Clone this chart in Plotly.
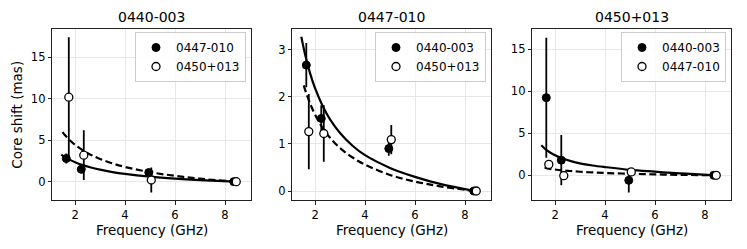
import plotly.graph_objects as go

# ---------------- data ----------------
PANEL_TITLES = ["0440-003", "0447-010", "0450+013"]
LEGEND_FILLED = ["0447-010", "0440-003", "0440-003"]
LEGEND_OPEN = ["0450+013", "0450+013", "0447-010"]

FREQ_FILLED = [1.65, 2.25, 4.95, 8.35]
FREQ_OPEN = [1.75, 2.35, 5.05, 8.45]

# panel 1 (0440-003)
P1_FILLED_Y = [2.8, 1.5, 1.1, 0.0]
P1_FILLED_ERR = [0.6, 0.5, 0.2, 0.05]
P1_OPEN_Y = [10.2, 3.2, 0.2, 0.0]
P1_OPEN_ERR = [7.25, 3.0, 1.5, 0.05]

# panel 2 (0447-010)
P2_FILLED_Y = [2.67, 1.54, 0.90, 0.0]
P2_FILLED_ERR = [0.47, 0.28, 0.15, 0.02]
P2_OPEN_Y = [1.26, 1.22, 1.09, 0.0]
P2_OPEN_ERR = [0.8, 0.6, 0.31, 0.02]

# panel 3 (0450+013)
P3_FILLED_Y = [9.25, 1.8, -0.6, 0.0]
P3_FILLED_ERR = [7.15, 3.0, 1.45, 0.05]
P3_OPEN_Y = [1.3, -0.05, 0.4, 0.0]
P3_OPEN_ERR = [0.5, 0.3, 0.1, 0.05]

# fitted curves
CURVE_FREQ = [1.6, 1.8, 2.0, 2.3, 2.6, 3.0, 3.5, 4.0, 5.0, 6.0, 7.0, 8.4]

P1_SOLID_START = [1.45, 3.26]
P1_SOLID = [2.96, 2.63, 2.35, 2.01, 1.74, 1.45, 1.16, 0.94, 0.61, 0.37, 0.19, 0.0]
P1_DASH_START = [1.5, 5.98]
P1_DASH = [5.61, 4.97, 4.45, 3.81, 3.29, 2.74, 2.20, 1.78, 1.15, 0.70, 0.36, 0.0]

P2_SOLID_START = [1.45, 3.27]
P2_SOLID = [2.90, 2.50, 2.18, 1.81, 1.52, 1.23, 0.96, 0.76, 0.49, 0.30, 0.15, 0.0]
P2_DASH_START = [1.55, 2.24]
P2_DASH = [2.15, 1.86, 1.62, 1.34, 1.13, 0.91, 0.71, 0.56, 0.34, 0.20, 0.10, 0.0]

P3_SOLID_START = [1.45, 3.57]
P3_SOLID = [3.15, 2.72, 2.38, 2.00, 1.72, 1.42, 1.17, 0.98, 0.65, 0.43, 0.22, 0.0]
P3_DASH_START = [1.58, 0.87]
P3_DASH = [0.87, 0.77, 0.69, 0.59, 0.51, 0.42, 0.34, 0.28, 0.18, 0.11, 0.055, 0.0]

X_TICKS = [2, 4, 6, 8]
Y_TICKS = [[0, 5, 10, 15], [0, 1, 2, 3], [0, 5, 10, 15]]
X_RANGE = [1.09, 9.04]
Y_RANGES = [[-2.25, 18.4], [-0.197, 3.43], [-2.98, 17.4]]

# ---------------- figure ----------------
W, H = 747, 249
FONT = "DejaVu Sans"
x_px = [(52.3, 251.0), (292.3, 491.0), (532.3, 731.0)]
y_top, y_bot = 29.3, 200.3

panels = [
    (P1_FILLED_Y, P1_FILLED_ERR, P1_OPEN_Y, P1_OPEN_ERR,
     P1_SOLID_START, P1_SOLID, P1_DASH_START, P1_DASH),
    (P2_FILLED_Y, P2_FILLED_ERR, P2_OPEN_Y, P2_OPEN_ERR,
     P2_SOLID_START, P2_SOLID, P2_DASH_START, P2_DASH),
    (P3_FILLED_Y, P3_FILLED_ERR, P3_OPEN_Y, P3_OPEN_ERR,
     P3_SOLID_START, P3_SOLID, P3_DASH_START, P3_DASH),
]

fig = go.Figure()
layout = dict(
    width=W, height=H,
    margin=dict(l=0, r=0, t=0, b=0),
    paper_bgcolor="white", plot_bgcolor="white",
    font=dict(family=FONT, size=12, color="black"),
    annotations=[],
)

for i, (fy, fe, oy, oe, ss, sv, ds, dv) in enumerate(panels):
    n = "" if i == 0 else str(i + 1)
    xa, ya = "x" + n, "y" + n
    leg = "legend" + n
    # curves
    fig.add_trace(go.Scatter(
        x=[ss[0]] + CURVE_FREQ, y=[ss[1]] + sv, mode="lines",
        line=dict(color="black", width=2.2, shape="spline"),
        xaxis=xa, yaxis=ya, showlegend=False, hoverinfo="skip"))
    fig.add_trace(go.Scatter(
        x=[ds[0]] + CURVE_FREQ, y=[ds[1]] + dv, mode="lines",
        line=dict(color="black", width=2.2, shape="spline", dash="7px,3.5px"),
        xaxis=xa, yaxis=ya, showlegend=False, hoverinfo="skip"))
    # filled points
    fig.add_trace(go.Scatter(
        x=FREQ_FILLED, y=fy, mode="markers", name=LEGEND_FILLED[i],
        marker=dict(color="black", size=8, line=dict(color="black", width=1)),
        error_y=dict(type="data", array=fe, color="black", thickness=1.8, width=0),
        xaxis=xa, yaxis=ya, legend=leg))
    # open points
    fig.add_trace(go.Scatter(
        x=FREQ_OPEN, y=oy, mode="markers", name=LEGEND_OPEN[i],
        marker=dict(color="white", size=8, line=dict(color="black", width=1.3)),
        error_y=dict(type="data", array=oe, color="black", thickness=1.8, width=0),
        xaxis=xa, yaxis=ya, legend=leg))

    x0, x1 = x_px[i]
    axis_common = dict(
        showline=True, linecolor="#222", linewidth=1, mirror=True,
        ticks="outside", ticklen=3.5, tickwidth=1, tickcolor="#222",
        showgrid=True, gridcolor="#e8e8e8", gridwidth=1, zeroline=False,
        tickfont=dict(family=FONT, size=11.5, color="black"),
    )
    layout["xaxis" + n] = dict(
        axis_common, domain=[x0 / W, x1 / W], range=X_RANGE,
        tickvals=X_TICKS, anchor=ya)
    layout["yaxis" + n] = dict(
        axis_common, domain=[1 - y_bot / H, 1 - y_top / H], range=Y_RANGES[i],
        tickvals=Y_TICKS[i], anchor=xa)
    layout[leg] = dict(
        x=(x1 - 5) / W, y=1 - 32 / H, xanchor="right", yanchor="top",
        bgcolor="rgba(255,255,255,0.85)", bordercolor="#cccccc", borderwidth=1,
        font=dict(family=FONT, size=12, color="black"), itemwidth=30,
        tracegroupgap=0)
    cx = (x0 + x1) / 2
    layout["annotations"].append(dict(
        x=cx / W, y=1 - 17 / H, xref="paper", yref="paper", text=PANEL_TITLES[i],
        showarrow=False, xanchor="center", yanchor="middle",
        font=dict(family=FONT, size=14, color="black")))
    layout["annotations"].append(dict(
        x=cx / W, y=1 - 230 / H, xref="paper", yref="paper", text="Frequency (GHz)",
        showarrow=False, xanchor="center", yanchor="middle",
        font=dict(family=FONT, size=13.5, color="black")))

layout["annotations"].append(dict(
    x=17 / W, y=1 - (y_top + y_bot) / 2 / H, xref="paper", yref="paper",
    text="Core shift (mas)", textangle=-90, showarrow=False,
    xanchor="center", yanchor="middle",
    font=dict(family=FONT, size=13.5, color="black")))

fig.update_layout(**layout)
fig.write_html(
    "out.html",
    config={"displayModeBar": False},
    post_script="document.body.style.margin='0px';document.body.style.padding='0px';",
)
